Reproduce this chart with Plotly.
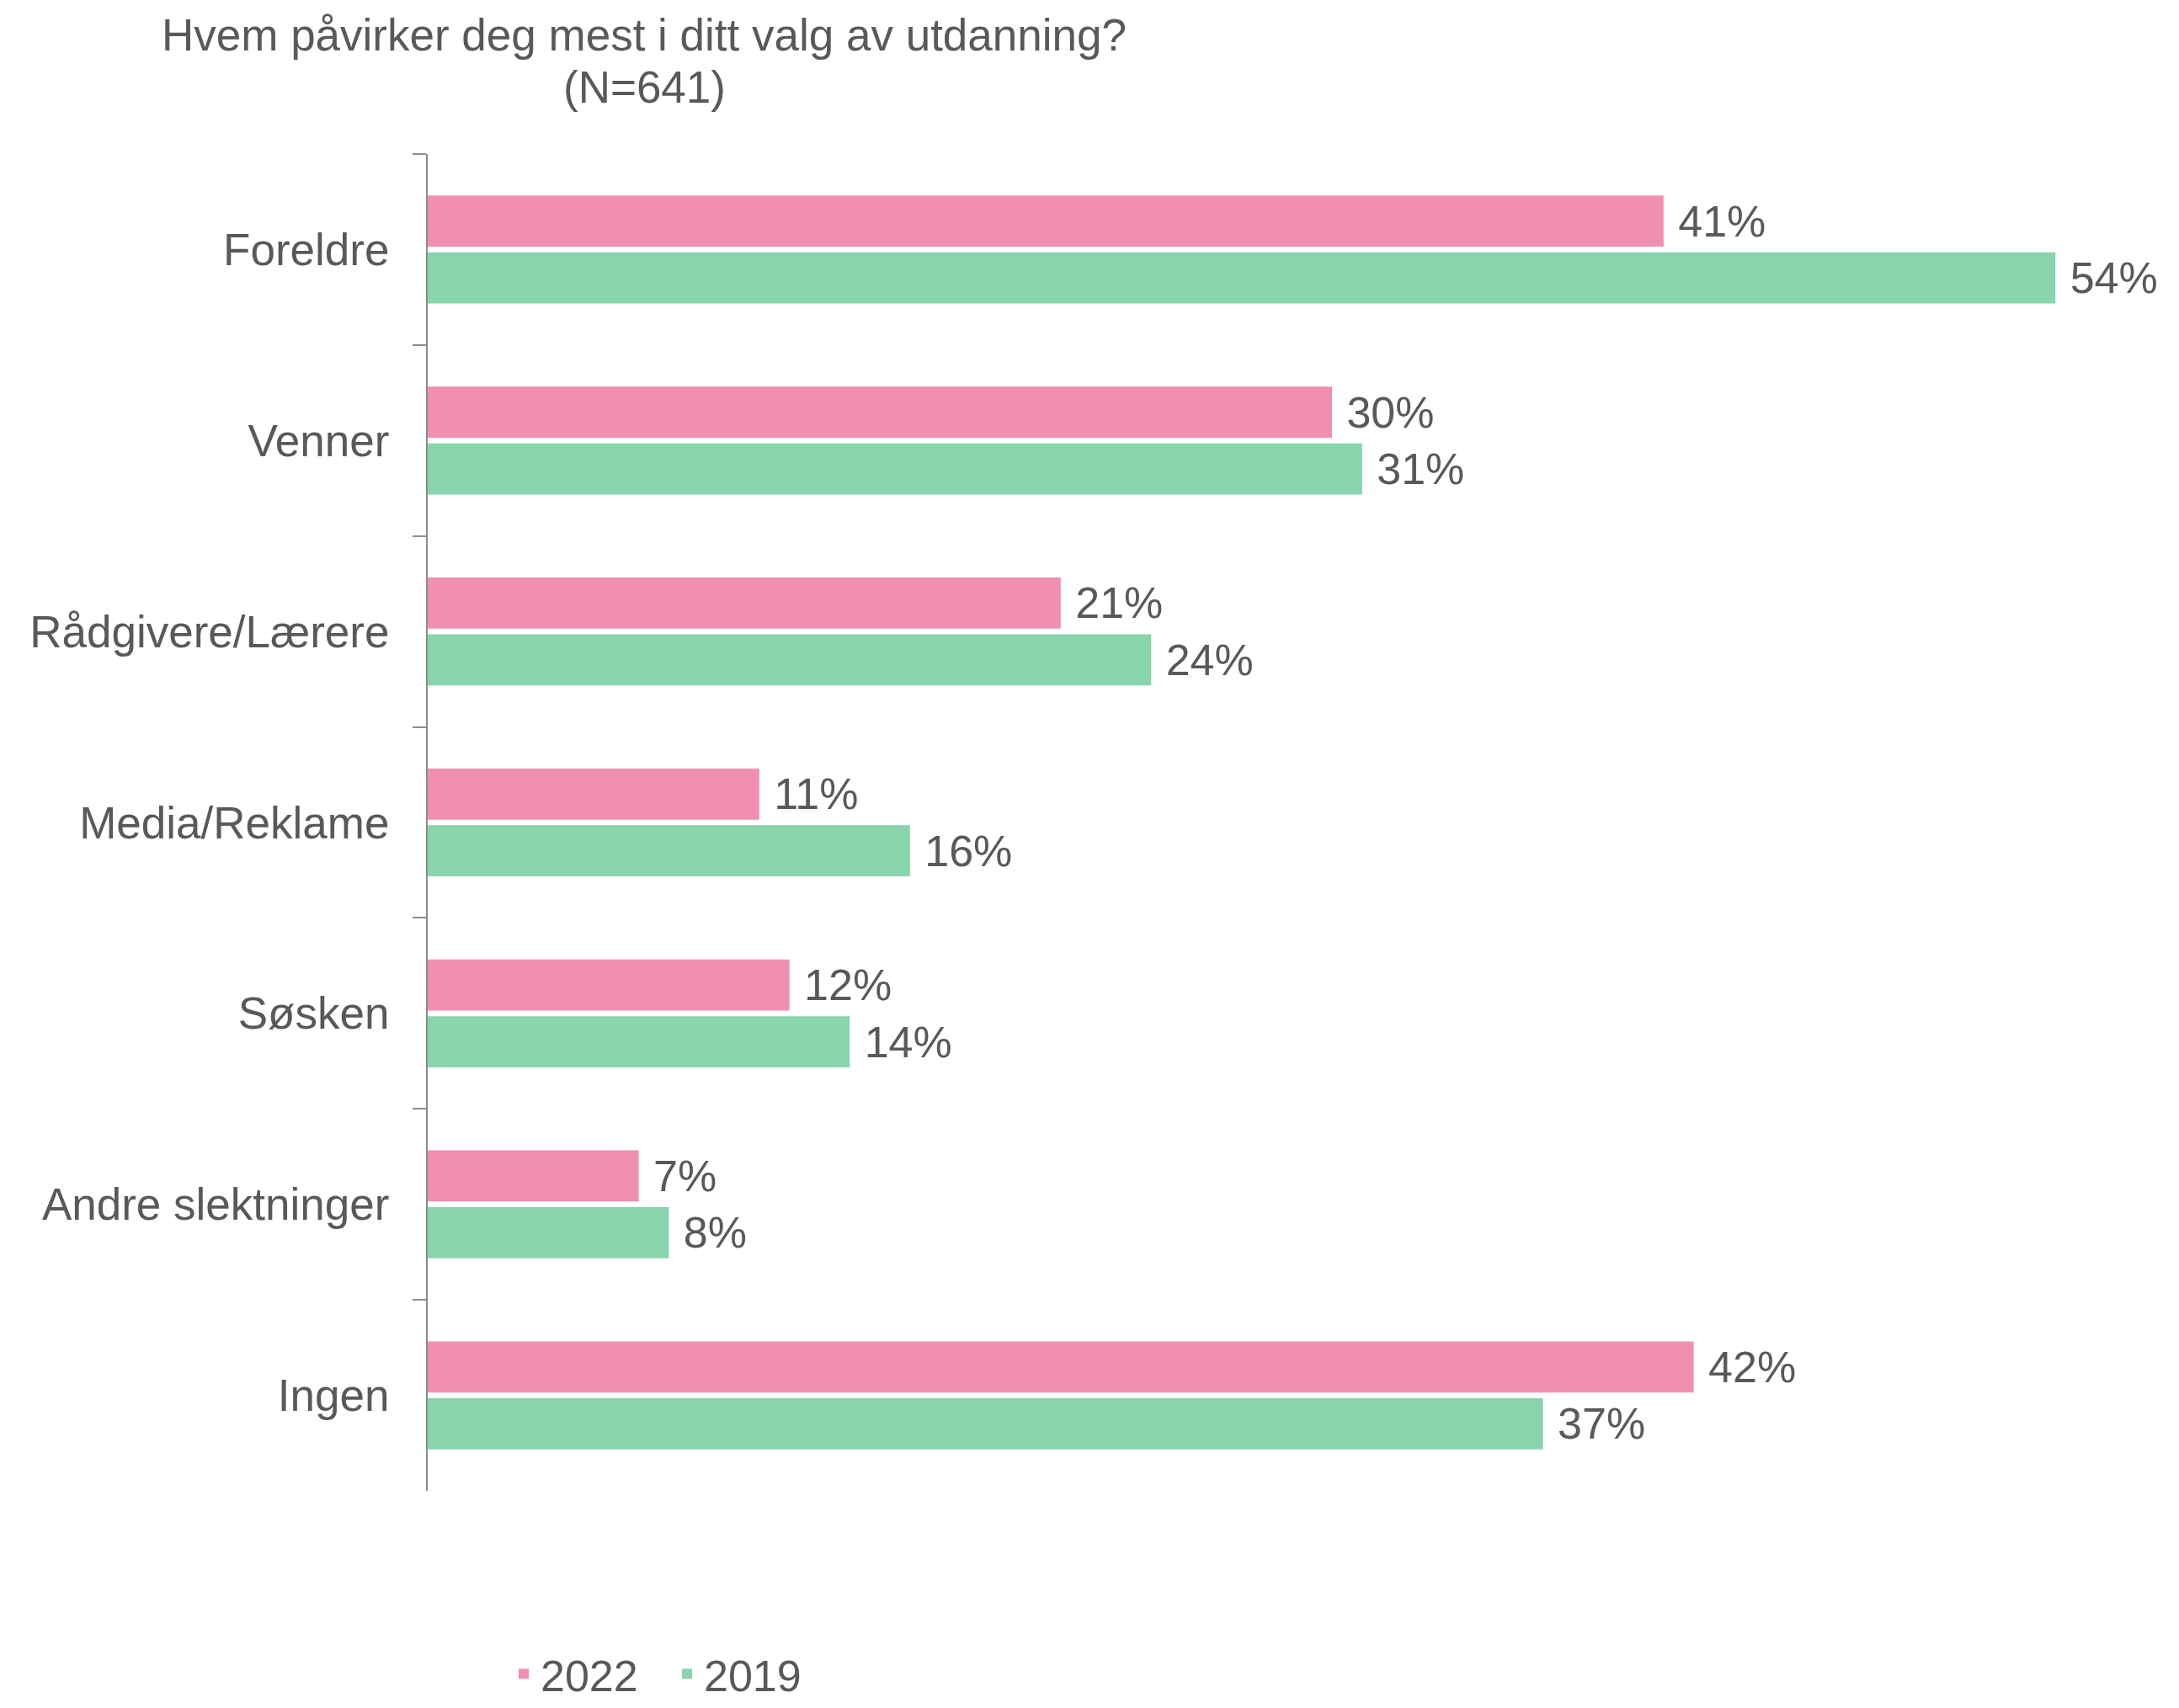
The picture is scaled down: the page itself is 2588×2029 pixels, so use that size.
import plotly.graph_objects as go

categories = ["Foreldre", "Venner", "Rådgivere/Lærere", "Media/Reklame", "Søsken", "Andre slektninger", "Ingen"]
series_names = ["2022", "2019"]
values_2022 = [41, 30, 21, 11, 12, 7, 42]
values_2019 = [54, 31, 24, 16, 14, 8, 37]
colors = ["#F08FAE", "#88D4AB"]

title_line1 = "Hvem påvirker deg mest i ditt valg av utdanning?"
title_line2 = "(N=641)"

W, H = 2588, 2029
FONT = "Liberation Sans, Arial, sans-serif"
TXT = "#595959"
AX = "#8C8C8C"

L, R, T, B = 508, 88, 183, 258
plot_w = W - L - R
plot_h = H - T - B

fig = go.Figure()
for name, vals, col in zip(series_names, [values_2022, values_2019], colors):
    fig.add_trace(go.Bar(
        name=name,
        y=categories,
        x=vals,
        orientation="h",
        marker=dict(color=col, line=dict(width=0)),
        text=[f" {v}%" for v in vals],
        textposition="outside",
        textfont=dict(family=FONT, size=52, color=TXT),
        constraintext="none",
        cliponaxis=False,
        hoverinfo="skip",
    ))

fig.update_layout(
    width=W, height=H,
    barmode="group",
    bargap=0.405,
    bargroupgap=0.1,
    paper_bgcolor="white",
    plot_bgcolor="white",
    margin=dict(l=L, r=R, t=T, b=B, pad=0),
    font=dict(family=FONT, size=52, color=TXT),
    title=dict(
        text=title_line1,
        xref="container", x=765 / W, xanchor="center",
        yref="container", y=1 - 41 / H, yanchor="middle",
        font=dict(family=FONT, size=53, color=TXT),
    ),
    legend=dict(
        orientation="h",
        xref="container", x=796 / W, xanchor="center",
        yref="container", y=0, yanchor="bottom",
        font=dict(family=FONT, size=52, color=TXT),
        traceorder="normal",
        entrywidth=149,
        entrywidthmode="pixels",
        itemclick=False, itemdoubleclick=False,
    ),
    showlegend=True,
)

fig.add_annotation(
    text=title_line2,
    xref="paper", x=(765 - L) / plot_w, xanchor="center",
    yref="paper", y=(H - B - 104) / plot_h, yanchor="middle",
    showarrow=False,
    font=dict(family=FONT, size=53, color=TXT),
)

fig.update_xaxes(
    range=[0, plot_w / 35.8],
    visible=False,
    showgrid=False,
    zeroline=False,
)
fig.update_yaxes(
    autorange="reversed",
    showline=True,
    linecolor=AX,
    linewidth=2,
    ticks="outside",
    tickson="boundaries",
    ticklen=16,
    tickwidth=2,
    tickcolor=AX,
    showgrid=False,
    zeroline=False,
    ticklabelstandoff=33,
    tickfont=dict(family=FONT, size=53, color=TXT),
)

fig.write_html(
    "out.html",
    config={"displayModeBar": False},
    post_script="document.body.style.margin='0';document.body.style.padding='0';",
)
